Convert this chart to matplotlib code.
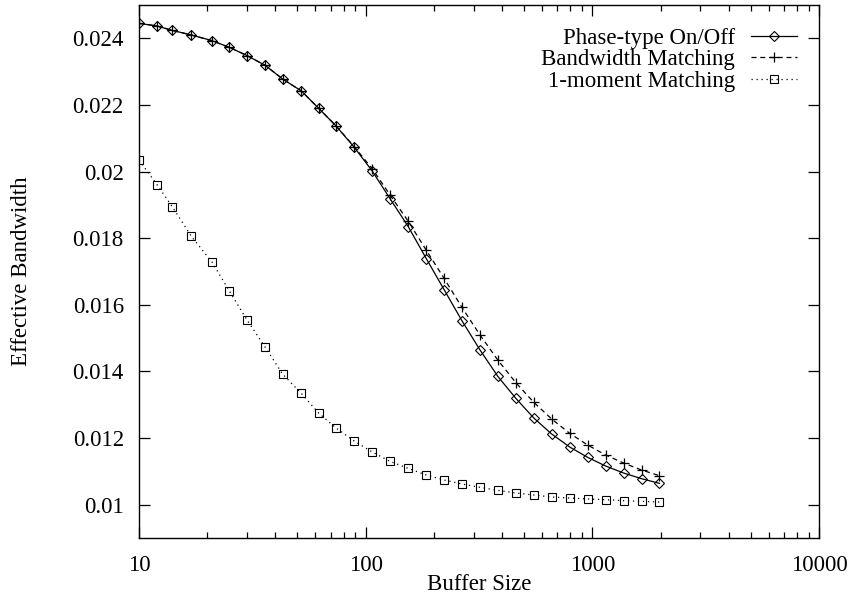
import matplotlib
matplotlib.use("Agg")
import matplotlib.pyplot as plt
from matplotlib.ticker import FixedLocator, LogLocator, NullFormatter

plt.rcParams['font.family'] = ['Liberation Serif', 'DejaVu Serif']
plt.rcParams['font.size'] = 16.5

buffer_size = [10, 12, 14, 17, 21, 25, 30, 36, 43, 52, 62, 74, 89, 107, 128,
               154, 185, 222, 266, 319, 383, 460, 552, 662, 795, 954, 1145,
               1374, 1648, 1978]

phase_type = [0.02445, 0.02437, 0.02424, 0.02410, 0.02393, 0.02373, 0.02348,
              0.02319, 0.02278, 0.02242, 0.02190, 0.02137, 0.02073, 0.02001,
              0.01919, 0.01835, 0.01739, 0.01645, 0.01552, 0.01465, 0.01385,
              0.01319, 0.01260, 0.01212, 0.01173, 0.01142, 0.01116, 0.01095,
              0.01078, 0.01064]

bandwidth_match = [0.02445, 0.02437, 0.02424, 0.02410, 0.02393, 0.02373, 0.02348,
                   0.02319, 0.02278, 0.02242, 0.02190, 0.02137, 0.02075, 0.02008,
                   0.01930, 0.01851, 0.01764, 0.01679, 0.01592, 0.01510, 0.01434,
                   0.01366, 0.01307, 0.01257, 0.01214, 0.01179, 0.01149, 0.01125,
                   0.01104, 0.01087]

one_moment = [0.02034, 0.01961, 0.01895, 0.01806, 0.01728, 0.01642, 0.01554,
              0.01473, 0.01392, 0.01334, 0.01275, 0.01230, 0.01191, 0.01158,
              0.01130, 0.01109, 0.01089, 0.01074, 0.01062, 0.01052, 0.01043,
              0.01035, 0.01029, 0.01023, 0.01020, 0.01017, 0.01015, 0.01012,
              0.01010, 0.01008]

y_ticks = [0.01, 0.012, 0.014, 0.016, 0.018, 0.02, 0.022, 0.024]
y_labels = ['0.01', '0.012', '0.014', '0.016', '0.018', '0.02', '0.022', '0.024']
x_ticks = [10, 100, 1000, 10000]
x_labels = ['10', '100', '1000', '10000']

fig = plt.figure(figsize=(8.54, 6.04), dpi=100)
ax = fig.add_axes([0.1628, 0.1093, 0.7962, 0.8824])

ax.plot(buffer_size, phase_type, color='black', lw=0.9, ls='-',
        marker='D', ms=4.8, mfc='none', mew=0.8, label='Phase-type On/Off')
ax.plot(buffer_size, bandwidth_match, color='black', lw=0.9, ls=(0, (4, 3)),
        marker='+', ms=7, mew=0.9, label='Bandwidth Matching')
ax.plot(buffer_size, one_moment, color='black', lw=0.9, ls=(0, (1, 3)),
        marker='s', ms=5.5, mfc='none', mew=0.8, label='1-moment Matching')

ax.set_xscale('log')
ax.set_xlim(10, 10000)
ax.set_ylim(0.009, 0.025)
ax.xaxis.set_major_locator(FixedLocator(x_ticks))
ax.set_xticklabels(x_labels)
ax.xaxis.set_minor_locator(LogLocator(base=10, subs=range(2, 10)))
ax.xaxis.set_minor_formatter(NullFormatter())
ax.yaxis.set_major_locator(FixedLocator(y_ticks))
ax.set_yticklabels(y_labels)

ax.tick_params(which='major', direction='in', length=8, width=0.9,
               top=True, right=True)
ax.tick_params(axis='y', which='major', pad=11)
ax.tick_params(axis='x', which='major', pad=12)
ax.tick_params(which='minor', direction='in', length=4, width=0.9,
               top=True, right=True)
for sp in ax.spines.values():
    sp.set_linewidth(1.0)

ax.set_xlabel('Buffer Size', labelpad=-1)
ax.set_ylabel('Effective Bandwidth')
ax.yaxis.set_label_coords(-0.157, 0.5)

leg = ax.legend(loc='upper right', frameon=False, markerfirst=False,
                handlelength=2.0, labelspacing=0.02, borderaxespad=0.0,
                bbox_to_anchor=(0.981, 0.975), handletextpad=0.7,
                fontsize=16.5, numpoints=1)
for t in leg.get_texts():
    t.set_ha('right')

fig.savefig('out.png', dpi=100)
